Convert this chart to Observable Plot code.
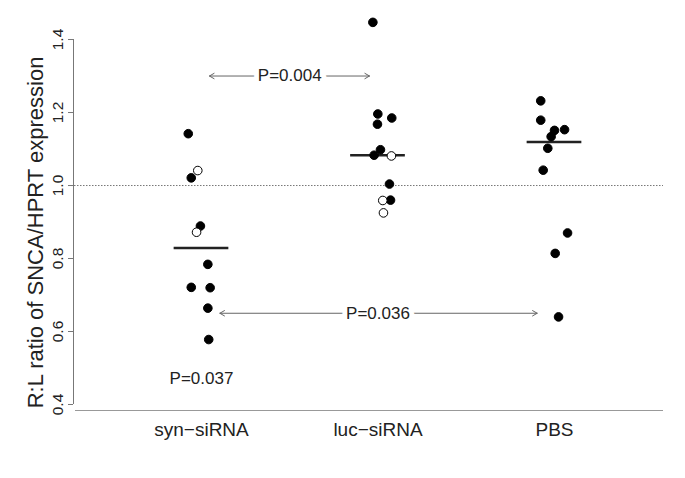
<!DOCTYPE html>
<html><head><meta charset="utf-8">
<script src="https://cdn.jsdelivr.net/npm/d3@7"></script>
<script src="https://cdn.jsdelivr.net/npm/@observablehq/plot@0.6"></script>
<style>body{margin:0;background:#fff;}</style>
</head><body><div id="chart"></div>
<script>
const categories = ["syn\u2212siRNA", "luc\u2212siRNA", "PBS"];

const synValues = [1.142, 1.041, 1.021, 0.889, 0.872, 0.784, 0.721, 0.720, 0.664, 0.578];
const synJitter = [-0.075, -0.021, -0.058, -0.006, -0.028, 0.036, -0.058, 0.049, 0.036, 0.041];
const synOpen   = [false, true, false, false, true, false, false, false, false, false];

const lucValues = [1.447, 1.196, 1.185, 1.168, 1.098, 1.083, 1.081, 1.004, 0.960, 0.959, 0.925];
const lucJitter = [-0.029, -0.001, 0.078, -0.003, 0.014, -0.022, 0.076, 0.065, 0.071, 0.027, 0.031];
const lucOpen   = [false, false, false, false, false, false, true, false, false, true, true];

const pbsValues = [1.232, 1.179, 1.151, 1.153, 1.134, 1.102, 1.042, 0.870, 0.814, 0.640];
const pbsJitter = [-0.078, -0.078, 0.000, 0.057, -0.019, -0.038, -0.064, 0.074, 0.004, 0.023];
const pbsOpen   = [false, false, false, false, false, false, false, false, false, false];

const means = [0.829, 1.083, 1.119];
const yTicks = [0.4, 0.6, 0.8, 1.0, 1.2, 1.4];
const reference = 1.0;

const pLabels = ["P=0.004", "P=0.036", "P=0.037"];
const pLabelX = [1.5, 2, 1];
const pLabelY = [1.30, 0.65, 0.471];
const arrowLeft = [1.045, 1.104];
const arrowRight = [1.952, 2.902];

const xDomain = [0.2465, 3.6176];
const yDomain = [0.3836, 1.4795];

const groups = [
  {values: synValues, jitter: synJitter, open: synOpen},
  {values: lucValues, jitter: lucJitter, open: lucOpen},
  {values: pbsValues, jitter: pbsJitter, open: pbsOpen}
];
const points = groups.flatMap((g, i) => g.values.map((v, j) => ({x: i + 1 + g.jitter[j], y: v, open: g.open[j]})));
const meanRows = means.map((m, i) => ({x: i + 1, y: m}));
const arrowRows = arrowLeft.flatMap((l, i) => [
  {x1: pLabelX[i], x2: l, y: pLabelY[i]},
  {x1: pLabelX[i], x2: arrowRight[i], y: pLabelY[i]}
]);
const labelRows = pLabels.map((t, i) => ({text: t, x: pLabelX[i], y: pLabelY[i]}));

const chart = Plot.plot({
  width: 685, height: 478,
  marginLeft: 68, marginRight: 22, marginTop: 10, marginBottom: 68,
  style: {fontFamily: "'Liberation Sans', Arial, sans-serif", background: "white", color: "#222"},
  x: {domain: xDomain, axis: null},
  y: {domain: yDomain, axis: null},
  marks: [
    Plot.ruleY([reference], {stroke: "#777", strokeDasharray: "1.5,1.5"}),
    Plot.ruleX([xDomain[0]], {y1: yTicks[0], y2: yTicks[yTicks.length - 1], dx: 5, stroke: "#777"}),
    Plot.axisY({ticks: yTicks, label: null, tickSize: 5, dx: 5, tickFormat: d => d.toFixed(1), tickRotate: -90, fontSize: 15.5, tickPadding: 6, stroke: "#777", fill: "#222"}),
    Plot.ruleY([yDomain[0]], {stroke: "#999", insetLeft: 7}),
    Plot.axisX({ticks: [1, 2, 3], label: null, tickFormat: d => categories[d - 1], tickSize: 0, tickPadding: 12, fontSize: 19, fill: "#222"}),
    Plot.ruleY(meanRows, {y: "y", x1: d => d.x - 0.155, x2: d => d.x + 0.155, stroke: "#222", strokeWidth: 2.5}),
    Plot.dot(points, {x: "x", y: "y", r: 4.3, fill: d => d.open ? "white" : "black", stroke: "black", strokeWidth: 1}),
    Plot.arrow(arrowRows, {x1: "x1", x2: "x2", y1: "y", y2: "y", stroke: "#666", strokeWidth: 1, headLength: 8, headAngle: 60, bend: 0}),
    Plot.text(labelRows, {x: "x", y: "y", text: "text", fontSize: 17, fill: "#222", stroke: "white", strokeWidth: 10}),
    Plot.text(["R:L ratio of SNCA/HPRT expression"], {frameAnchor: "left", textAnchor: "middle", rotate: -90, dx: -33, dy: 22, fontSize: 22, fill: "#222"})
  ]
});
document.getElementById("chart").appendChild(chart);
</script>
</body></html>
